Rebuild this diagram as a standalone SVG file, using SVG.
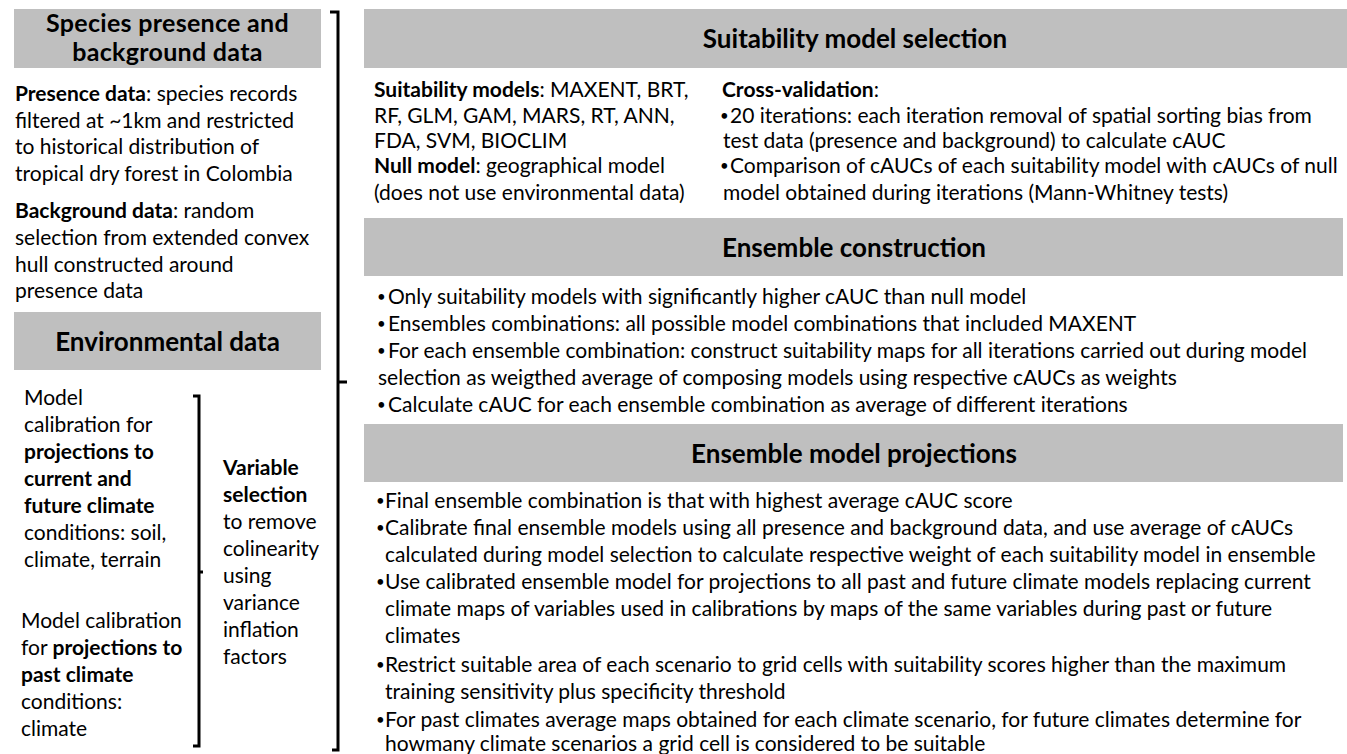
<svg xmlns="http://www.w3.org/2000/svg" width="1347" height="754" viewBox="0 0 1347 754">
<style>
.hdr{fill:#bfbfbf}
text{font-family:Lato,"Open Sans","Liberation Sans",sans-serif;fill:#000}
.h{font-size:26px;font-weight:bold;text-anchor:middle}
.h2{font-size:25px;letter-spacing:0.3px}
.t{font-size:21px}
.bl{font-size:15px}
.b{font-weight:bold}
.br{fill:none;stroke:#000;stroke-width:3}
</style>
<rect width="1347" height="754" fill="#fff"/>

<g id="species-data">
<rect class="hdr" x="14" y="9" width="307" height="59"/>
<text class="h h2" x="167.5" y="32">Species presence and</text>
<text class="h h2" x="167.5" y="61">background data</text>
<text class="t" x="15" y="101"><tspan class="b">Presence data</tspan>: species records</text>
<text class="t" x="15" y="128">filtered at ~1km and restricted</text>
<text class="t" x="15" y="154">to historical distribution of</text>
<text class="t" x="15" y="181">tropical dry forest in Colombia</text>
<text class="t" x="15" y="218"><tspan class="b">Background data</tspan>: random</text>
<text class="t" x="15" y="245">selection from extended convex</text>
<text class="t" x="15" y="272">hull constructed around</text>
<text class="t" x="15" y="298">presence data</text>
</g>

<g id="environmental-data">
<rect class="hdr" x="14" y="312" width="307" height="58"/>
<text class="h" x="167.5" y="351">Environmental data</text>
</g>

<g id="calibration-current">
<text class="t" x="24" y="405">Model</text>
<text class="t" x="24" y="432">calibration for</text>
<text class="t b" x="24" y="459">projections to</text>
<text class="t b" x="24" y="486">current and</text>
<text class="t b" x="24" y="513">future climate</text>
<text class="t" x="24" y="540">conditions: soil,</text>
<text class="t" x="24" y="567">climate, terrain</text>
</g>

<g id="calibration-past">
<text class="t" x="21" y="628">Model calibration</text>
<text class="t" x="21" y="655">for <tspan class="b">projections to</tspan></text>
<text class="t b" x="21" y="682">past climate</text>
<text class="t" x="21" y="709">conditions:</text>
<text class="t" x="21" y="736">climate</text>
</g>

<g id="variable-selection">
<text class="t b" x="223" y="475">Variable</text>
<text class="t b" x="223" y="502">selection</text>
<text class="t" x="223" y="529">to remove</text>
<text class="t" x="223" y="556">colinearity</text>
<text class="t" x="223" y="583">using</text>
<text class="t" x="223" y="610">variance</text>
<text class="t" x="223" y="637">inflation</text>
<text class="t" x="223" y="664">factors</text>
</g>

<g id="suitability-model-selection">
<rect class="hdr" x="364" y="9" width="983" height="59"/>
<text class="h" x="855" y="48">Suitability model selection</text>
<text class="t" x="374" y="97"><tspan class="b">Suitability models</tspan>: MAXENT, BRT,</text>
<text class="t" x="374" y="123">RF, GLM, GAM, MARS, RT, ANN,</text>
<text class="t" x="374" y="148">FDA, SVM, BIOCLIM</text>
<text class="t" x="374" y="173"><tspan class="b">Null model</tspan>: geographical model</text>
<text class="t" x="374" y="200">(does not use environmental data)</text>
<text class="t" x="722" y="97"><tspan class="b">Cross-validation</tspan>:</text>
<text class="bl" x="720" y="121">•</text>
<text class="t" x="730" y="123">20 iterations: each iteration removal of spatial sorting bias from</text>
<text class="t" x="723" y="148">test data (presence and background) to calculate cAUC</text>
<text class="bl" x="720" y="171">•</text>
<text class="t" x="730" y="173">Comparison of cAUCs of each suitability model with cAUCs of null</text>
<text class="t" x="723" y="200">model obtained during iterations (Mann-Whitney tests)</text>
</g>

<g id="ensemble-construction">
<rect class="hdr" x="364" y="218" width="979" height="58"/>
<text class="h" x="854" y="257">Ensemble construction</text>
<text class="bl" x="377" y="302">•</text>
<text class="t" x="388" y="304">Only suitability models with significantly higher cAUC than null model</text>
<text class="bl" x="377" y="329">•</text>
<text class="t" x="388" y="331">Ensembles combinations: all possible model combinations that included MAXENT</text>
<text class="bl" x="377" y="356">•</text>
<text class="t" x="388" y="358">For each ensemble combination: construct suitability maps for all iterations carried out during model</text>
<text class="t" x="378" y="385">selection as weigthed average of composing models using respective cAUCs as weights</text>
<text class="bl" x="377" y="410">•</text>
<text class="t" x="388" y="412">Calculate cAUC for each ensemble combination as average of different iterations</text>
</g>

<g id="ensemble-projections">
<rect class="hdr" x="364" y="424" width="979" height="58"/>
<text class="h" x="854" y="463">Ensemble model projections</text>
<text class="bl" x="376" y="506">•</text>
<text class="t" x="385" y="508">Final ensemble combination is that with highest average cAUC score</text>
<text class="bl" x="376" y="533">•</text>
<text class="t" x="385" y="535">Calibrate final ensemble models using all presence and background data, and use average of cAUCs</text>
<text class="t" x="385" y="562">calculated during model selection to calculate respective weight of each suitability model in ensemble</text>
<text class="bl" x="376" y="587">•</text>
<text class="t" x="385" y="589">Use calibrated ensemble model for projections to all past and future climate models replacing current</text>
<text class="t" x="385" y="616">climate maps of variables used in calibrations by maps of the same variables during past or future</text>
<text class="t" x="385" y="643">climates</text>
<text class="bl" x="376" y="670">•</text>
<text class="t" x="385" y="672">Restrict suitable area of each scenario to grid cells with suitability scores higher than the maximum</text>
<text class="t" x="385" y="699">training sensitivity plus specificity threshold</text>
<text class="bl" x="376" y="725">•</text>
<text class="t" x="385" y="727">For past climates average maps obtained for each climate scenario, for future climates determine for</text>
<text class="t" x="385" y="751">howmany climate scenarios a grid cell is considered to be suitable</text>
</g>

<g id="connectors">
<path class="br" d="M330,12 H338 V750 H332 M338,382 H347"/>
<path class="br" d="M193,396 H199 V746 H193 M199,572 H203"/>
</g>
</svg>
